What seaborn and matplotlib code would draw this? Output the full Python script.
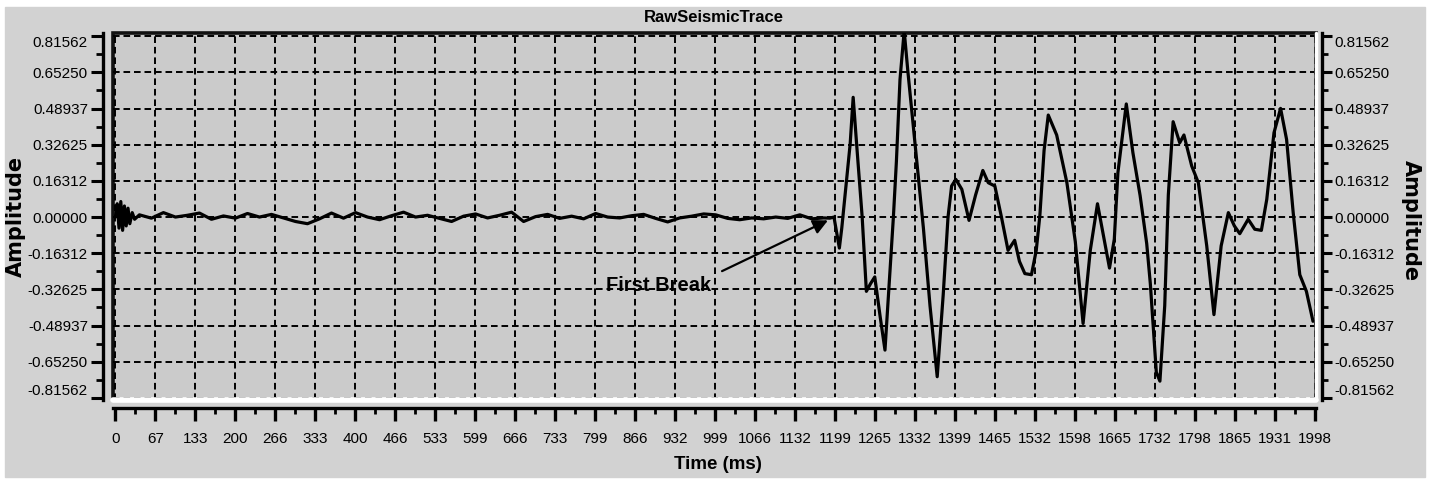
import pandas as pd
import seaborn as sns
import matplotlib.pyplot as plt
from matplotlib.patches import Rectangle
from matplotlib.lines import Line2D
from matplotlib.ticker import MultipleLocator

# quiet part of the trace, before the first break (time in ms, amplitude)
quiet_time = [0, 3, 6, 9, 12, 15, 18, 21, 24, 28, 32,
              40, 60, 80, 100, 120, 140, 160, 180, 200, 220, 240, 260, 280, 300,
              320, 340, 360, 380, 400, 420, 440, 460, 480, 500, 520, 540, 560, 580,
              600, 620, 640, 660, 680, 700, 720, 740, 760, 780, 800, 820, 840, 860,
              880, 900, 920, 940, 960, 980, 1000, 1020, 1040, 1060, 1080, 1100,
              1120, 1140, 1160, 1180]
quiet_amp = [0.0, 0.06, -0.05, 0.07, -0.06, 0.05, -0.04, 0.04, -0.03, 0.02, -0.01,
             0.01, -0.005, 0.02, 0.0, 0.008, 0.018, -0.01, 0.005, -0.005, 0.016, 0.0,
             0.012, -0.004, -0.02, -0.03, -0.008, 0.018, -0.005, 0.02, 0.0, -0.012,
             0.006, 0.022, 0.0, 0.008, -0.006, -0.02, 0.004, 0.014, -0.004, 0.008,
             0.022, -0.02, 0.002, 0.012, -0.006, 0.004, -0.008, 0.016, 0.0, -0.004,
             0.006, 0.012, -0.006, -0.022, -0.004, 0.004, 0.014, 0.01, -0.006, -0.012,
             -0.004, -0.008, 0.0, -0.006, 0.01, -0.008, -0.004]

# arrivals after the first break
signal_time = [1190, 1197, 1206, 1210, 1218, 1224, 1229, 1235, 1244, 1251, 1258, 1265,
               1274, 1282, 1289, 1296, 1301, 1307, 1314, 1320, 1335, 1346, 1357, 1369,
               1379, 1387, 1393, 1400, 1410, 1422, 1433, 1445, 1454, 1465, 1476, 1487,
               1498, 1506, 1515, 1526, 1534, 1540, 1547, 1554, 1568, 1585, 1599, 1612,
               1624, 1636, 1647, 1656, 1664, 1670, 1684, 1695, 1707, 1718, 1724, 1734,
               1740, 1748, 1754, 1762, 1773, 1780, 1793, 1804, 1818, 1830, 1842, 1854,
               1864, 1873, 1887, 1898, 1909, 1918, 1930, 1941, 1951, 1962, 1973, 1984,
               1995]
signal_amp = [-0.005, 0.0, -0.14, -0.05, 0.17, 0.33, 0.54, 0.32, 0.0, -0.335, -0.30,
              -0.27, -0.45, -0.60, -0.30, 0.0, 0.25, 0.62, 0.84, 0.66, 0.25, -0.05,
              -0.40, -0.72, -0.35, 0.0, 0.14, 0.17, 0.125, -0.015, 0.10, 0.21, 0.155,
              0.14, 0.0, -0.15, -0.105, -0.20, -0.255, -0.26, -0.15, 0.007, 0.30, 0.46,
              0.37, 0.155, -0.11, -0.48, -0.15, 0.06, -0.10, -0.23, -0.10, 0.20, 0.51,
              0.29, 0.097, -0.12, -0.30, -0.70, -0.74, -0.40, 0.10, 0.43, 0.335, 0.37,
              0.23, 0.155, -0.13, -0.44, -0.13, 0.02, -0.04, -0.075, -0.01, -0.055,
              -0.06, 0.08, 0.38, 0.49, 0.35, 0.02, -0.26, -0.335, -0.47]

y_ticks = [-0.81562, -0.65250, -0.48937, -0.32625, -0.16312, 0.0,
           0.16312, 0.32625, 0.48937, 0.65250, 0.81562]
y_labels = ["-0.81562", "-0.65250", "-0.48937", "-0.32625", "-0.16312", "0.00000",
            "0.16312", "0.32625", "0.48937", "0.65250", "0.81562"]
x_labels = ["0", "67", "133", "200", "266", "333", "400", "466", "533", "599", "666",
            "733", "799", "866", "932", "999", "1066", "1132", "1199", "1265", "1332",
            "1399", "1465", "1532", "1598", "1665", "1732", "1798", "1865", "1931", "1998"]
x_step = 66.6

trace = pd.DataFrame({"time": quiet_time + signal_time,
                      "amplitude": quiet_amp + signal_amp})

sns.set_theme(style="white")
plt.rcParams["font.family"] = ["Liberation Sans", "DejaVu Sans"]
plt.rcParams.update({"text.color": "black", "axes.labelcolor": "black",
                     "xtick.color": "black", "ytick.color": "black"})

W, H = 1431, 484
fig = plt.figure(figsize=(W / 100, H / 100), dpi=100, facecolor="white")
# grey card of the scanned picture
fig.patches.append(Rectangle((5 / W, 7 / H), 1420 / W, 470 / H,
                             transform=fig.transFigure, color="#d2d2d2", zorder=-10))

ax = fig.add_axes([113 / W, 84 / H, 1203 / W, 367 / H])
ax.set_facecolor("#cbcbcb")
ax.patch.set_edgecolor("#111111")
ax.patch.set_linewidth(2.6)

sns.lineplot(data=trace, x="time", y="amplitude", ax=ax, color="black",
             lw=2.3, estimator=None, sort=False)

ax.set_xlim(-4, 2000)
ax.set_ylim(-0.825, 0.83)

# axes
ax.set_xticks([i * x_step for i in range(len(x_labels))], x_labels)
ax.xaxis.set_minor_locator(MultipleLocator(x_step / 2))
ax.set_yticks(y_ticks, y_labels)
ax.yaxis.set_minor_locator(MultipleLocator(0.16312 / 2))
ax.grid(True, which="major", color="black", linestyle=(0, (3.4, 2.0)), linewidth=1.4)

for side in ["top", "right"]:
    ax.spines[side].set_visible(False)
ax.spines["left"].set_position(("outward", 7))
ax.spines["bottom"].set_position(("outward", 6))
for side in ["left", "bottom"]:
    ax.spines[side].set_color("black")
    ax.spines[side].set_linewidth(2.4)

ax.tick_params(axis="y", which="major", direction="out", length=9, width=2.2,
               labelsize=11, pad=2, left=True)
ax.tick_params(axis="y", which="minor", direction="out", length=5, width=2, left=True)
ax.tick_params(axis="x", which="major", direction="out", length=9, width=2.4,
               labelsize=11, pad=8, bottom=True)
ax.tick_params(axis="x", which="minor", direction="out", length=4, width=2, bottom=True)
ylabels = ax.get_yticklabels()
ylabels[0].set_va("bottom")
ylabels[-1].set_va("top")

# white strips along the bottom and right edge of the plotting area
ax.add_line(Line2D([0, 1], [0, 0], transform=ax.transAxes, color="white",
                   lw=4, clip_on=False, zorder=3))
ax.add_line(Line2D([1, 1], [0, 1], transform=ax.transAxes, color="white",
                   lw=2.5, clip_on=False, zorder=3))

ax2 = ax.twinx()
ax2.set_ylim(ax.get_ylim())
ax2.set_yticks(y_ticks, y_labels)
ax2.yaxis.set_minor_locator(MultipleLocator(0.16312 / 2))
ax2.grid(False)
for side in ["top", "left", "bottom"]:
    ax2.spines[side].set_visible(False)
ax2.spines["right"].set_position(("outward", 4))
ax2.spines["right"].set_color("black")
ax2.spines["right"].set_linewidth(2.4)
ax2.tick_params(axis="y", which="major", direction="out", length=7, width=2.2,
                labelsize=11, pad=2, right=True)
ax2.tick_params(axis="y", which="minor", direction="out", length=4, width=2, right=True)
rlabels = ax2.get_yticklabels()
rlabels[0].set_va("bottom")
rlabels[-1].set_va("top")

# texts
fig.text(714 / W, 1 - 18 / H, "RawSeismicTrace", ha="center", va="center",
         fontsize=12, fontweight="bold")
ax.set_xlabel("Time (ms)", fontsize=13.5, fontweight="bold", va="center")
ax.xaxis.set_label_coords(0.503, -0.177)
ax.set_ylabel("Amplitude", fontsize=15, fontweight="bold", va="center",
              family=["DejaVu Sans"])
ax.yaxis.set_label_coords(-0.081, 0.5)
ax2.set_ylabel("Amplitude", fontsize=15, fontweight="bold", va="center",
               rotation=-90, family=["DejaVu Sans"])
ax2.yaxis.set_label_coords(1.079, 0.49)

ax.annotate("First Break", xy=(1187, -0.015), xytext=(905, -0.31),
            ha="center", va="center", fontsize=14.5, fontweight="bold",
            arrowprops=dict(arrowstyle="-|>", color="black", lw=1.6,
                            mutation_scale=22, relpos=(1, 1), shrinkA=6, shrinkB=0))

fig.savefig("out.png", dpi=100, facecolor=fig.get_facecolor())
